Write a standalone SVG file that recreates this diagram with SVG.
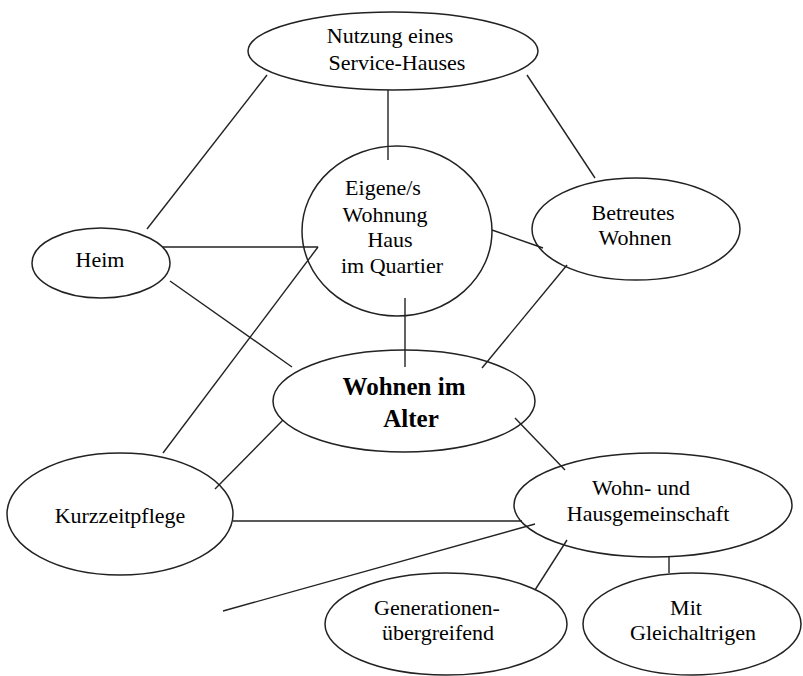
<svg xmlns="http://www.w3.org/2000/svg" width="803" height="676" viewBox="0 0 803 676">
<style>
.n{fill:#fff;stroke:#222;stroke-width:1.5}
.c line{stroke:#222;stroke-width:1.4}
text{font-family:"Liberation Serif","Times New Roman",serif;font-size:22px;fill:#000;text-anchor:middle}
.b{font-weight:bold;font-size:25px}
</style>
<rect width="803" height="676" fill="#fff"/>
<g id="connectors" class="c">
<line x1="388" y1="89" x2="388" y2="160"/>
<line x1="267" y1="75" x2="147" y2="229"/>
<line x1="527" y1="75" x2="595" y2="178"/>
<line x1="163" y1="247" x2="318" y2="247"/>
<line x1="318" y1="247" x2="163" y2="453"/>
<line x1="170" y1="281" x2="292" y2="367"/>
<line x1="492" y1="230" x2="543" y2="248"/>
<line x1="567" y1="265" x2="482" y2="368"/>
<line x1="405" y1="298" x2="405" y2="367"/>
<line x1="215" y1="489" x2="283" y2="420"/>
<line x1="515" y1="418" x2="565" y2="470"/>
<line x1="233" y1="521" x2="522" y2="521"/>
<line x1="223" y1="611" x2="535" y2="524"/>
<line x1="567" y1="540" x2="535" y2="590"/>
<line x1="669" y1="556" x2="669" y2="573"/>
</g>
<g id="nutzung"><ellipse class="n" cx="393" cy="51" rx="145" ry="39"/><text x="390" y="43">Nutzung eines</text><text x="397" y="70">Service-Hauses</text></g>
<g id="eigene"><ellipse class="n" cx="397" cy="231" rx="95" ry="85" style="fill:none"/><text x="383" y="195">Eigene/s</text><text x="385" y="222">Wohnung</text><text x="390" y="247">Haus</text><text x="392" y="273">im Quartier</text></g>
<g id="heim"><ellipse class="n" cx="101" cy="263" rx="69" ry="35"/><text x="100" y="267">Heim</text></g>
<g id="betreutes"><ellipse class="n" cx="636" cy="229" rx="104" ry="51" style="fill:none"/><text x="633" y="220">Betreutes</text><text x="635" y="245">Wohnen</text></g>
<g id="wohnen"><ellipse class="n" cx="404" cy="401" rx="131" ry="51" style="fill:none"/><text class="b" x="404" y="395">Wohnen im</text><text class="b" x="411" y="427">Alter</text></g>
<g id="kurzzeit"><ellipse class="n" cx="120" cy="514" rx="113" ry="61" style="fill:none"/><text x="120" y="523">Kurzzeitpflege</text></g>
<g id="wohngemeinschaft"><ellipse class="n" cx="653" cy="505" rx="139" ry="52" style="fill:none"/><text x="641" y="495">Wohn- und</text><text x="648" y="521">Hausgemeinschaft</text></g>
<g id="generationen"><ellipse class="n" cx="446" cy="624" rx="121" ry="51"/><text x="437" y="615">Generationen-</text><text x="438" y="640">übergreifend</text></g>
<g id="mit"><ellipse class="n" cx="692" cy="624" rx="109" ry="51"/><text x="686" y="615">Mit</text><text x="693" y="640">Gleichaltrigen</text></g>
</svg>
